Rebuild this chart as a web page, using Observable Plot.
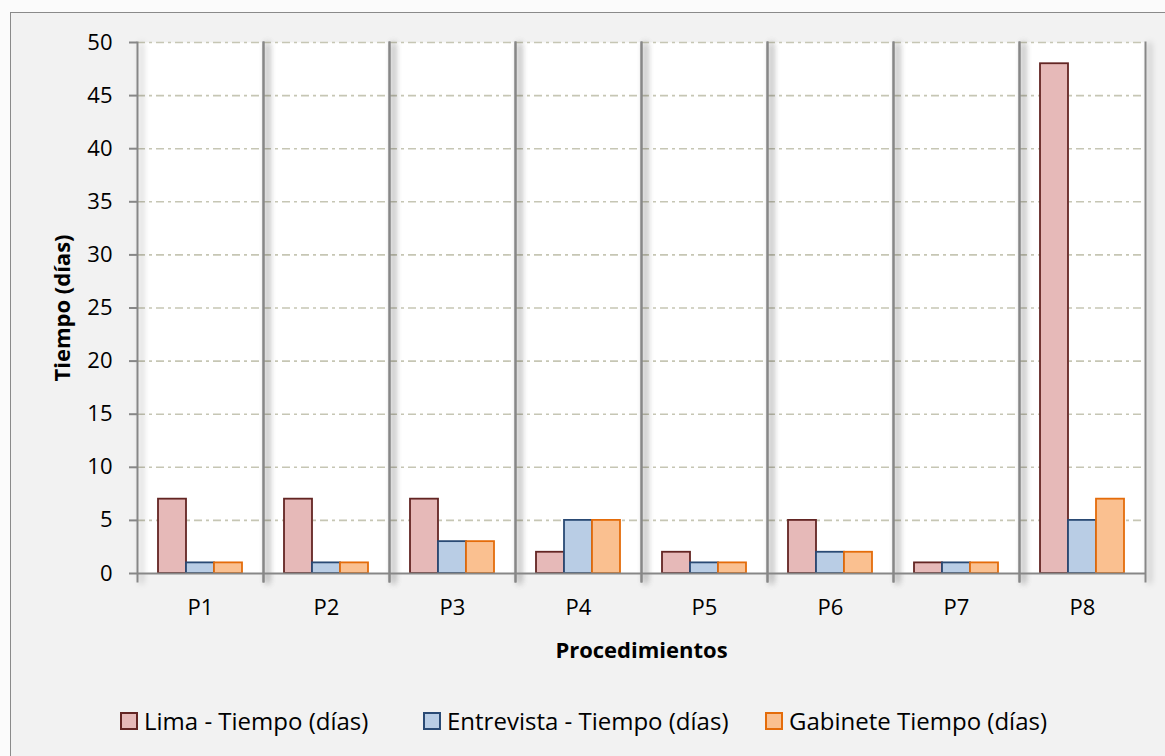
<!DOCTYPE html>
<html>
<head>
<meta charset="utf-8">
<script src="https://cdn.jsdelivr.net/npm/d3@7"></script>
<script src="https://cdn.jsdelivr.net/npm/@observablehq/plot@0.6"></script>
<style>
  html, body { margin: 0; padding: 0; background: #fbfbfb; width: 1165px; height: 756px; overflow: hidden; }
  #outer { position: absolute; left: 10px; top: 12px; width: 1200px; height: 800px; background: #f2f2f2; border: 1.5px solid #8a8a8a; }
  #wrap { position: absolute; left: 0; top: 0; width: 1165px; }
  #chart svg { display: block; }
  g[aria-label="frame"] line { filter: drop-shadow(4px 1px 3px rgba(0,0,0,0.35)); }
  [aria-label$="axis label"] { font-weight: bold; }
  #legend { position: relative; height: 56px; font-family: "Open Sans", sans-serif; font-size: 24px; color: #000; }
  .item { position: absolute; top: 4px; display: flex; align-items: center; white-space: nowrap; }
  .sw { width: 14px; height: 14px; border: 2px solid; margin-right: 6px; }
</style>
</head>
<body>
<div id="outer"></div>
<div id="wrap">
  <div id="chart"></div>
  <div id="legend"></div>
</div>
<script>
const categories = ["P1", "P2", "P3", "P4", "P5", "P6", "P7", "P8"];
const seriesNames = ["Lima - Tiempo (días)", "Entrevista - Tiempo (días)", "Gabinete Tiempo (días)"];
const lima = [7, 7, 7, 2, 2, 5, 1, 48];
const entrevista = [1, 1, 3, 5, 1, 2, 1, 5];
const gabinete = [1, 1, 3, 5, 1, 2, 1, 7];
const yTicks = [0, 5, 10, 15, 20, 25, 30, 35, 40, 45, 50];
const fills = ["#e6b9b8", "#b9cde5", "#fac090"];
const strokes = ["#632523", "#2a4a74", "#e46c0a"];
const legendX = [120, 423, 765];

const valuesBySeries = [lima, entrevista, gabinete];
const data = categories.flatMap((c, i) =>
  seriesNames.map((s, j) => ({ cat: c, series: s, value: valuesBySeries[j][i] }))
);

const barMarks = seriesNames.map((s, j) =>
  Plot.barY(data.filter(d => d.series === s), {
    fx: "cat", x: "series", y: "value",
    fill: fills[j], stroke: strokes[j], strokeWidth: 1.8
  })
);

const chart = Plot.plot({
  width: 1165,
  height: 700,
  marginLeft: 136,
  marginRight: 19,
  marginTop: 42,
  marginBottom: 127,
  style: { background: "transparent", fontFamily: "'Open Sans', sans-serif", fontSize: "22px", color: "#000", overflow: "visible" },
  fx: { domain: categories, padding: 0, label: "Procedimientos" },
  x: { domain: seriesNames, paddingInner: 0, paddingOuter: 0.72, axis: null },
  y: { domain: [0, 50], label: "Tiempo (días)" },
  marks: [
    Plot.frame({ fill: "white" }),
    Plot.gridY(yTicks.filter(v => v > 0), { stroke: "#c6c6b4", strokeOpacity: 1, strokeWidth: 1.6, strokeDasharray: "8 4 3 4" }),
    Plot.frame({ anchor: "left", stroke: "#878787", strokeWidth: 2, insetBottom: -8 }),
    Plot.frame({ anchor: "right", stroke: "#878787", strokeWidth: 2, insetBottom: -8 }),
    ...barMarks,
    Plot.ruleY([0], { stroke: "#878787", strokeWidth: 2 }),
    Plot.axisY({ ticks: yTicks, tickSize: 8, tickPadding: 17, stroke: "#878787", strokeWidth: 2, label: "Tiempo (días)", labelArrow: "none", labelAnchor: "center", labelOffset: 83, fill: "#000" }),
    Plot.axisFx({ anchor: "bottom", tickSize: 0, tickPadding: 26, label: "Procedimientos", labelArrow: "none", labelAnchor: "center", labelOffset: 84, fill: "#000" })
  ]
});
document.getElementById("chart").appendChild(chart);

const legend = document.getElementById("legend");
seriesNames.forEach((s, j) => {
  const item = document.createElement("div");
  item.className = "item";
  item.style.left = legendX[j] + "px";
  const sw = document.createElement("div");
  sw.className = "sw";
  sw.style.background = fills[j];
  sw.style.borderColor = strokes[j];
  const t = document.createElement("span");
  t.textContent = s;
  item.appendChild(sw);
  item.appendChild(t);
  legend.appendChild(item);
});
</script>
</body>
</html>
